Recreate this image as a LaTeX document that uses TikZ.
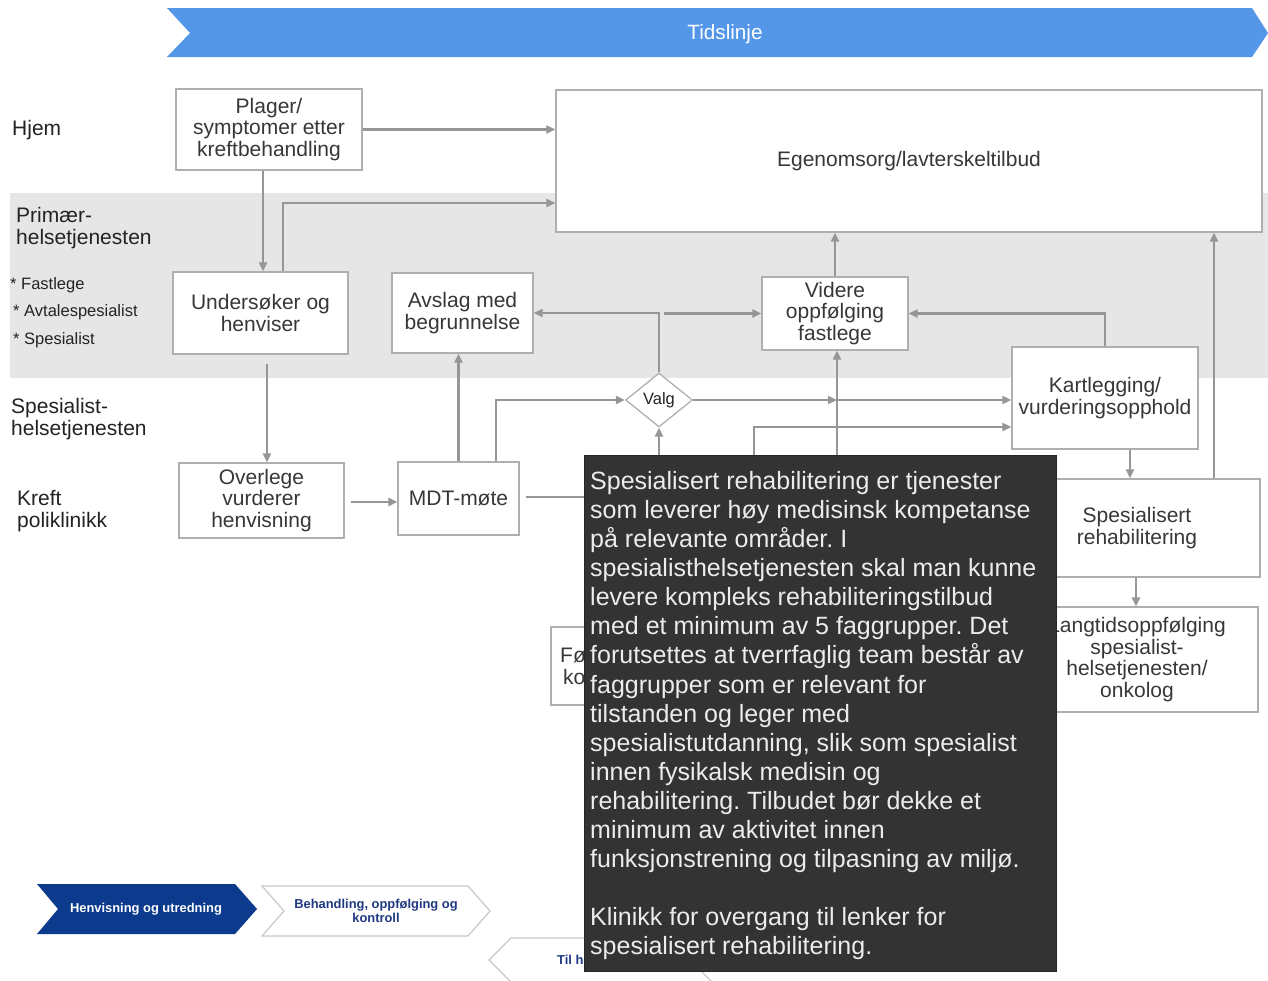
\documentclass[tikz,border=0pt]{standalone}
\usepackage{fontspec}
\setmainfont{Liberation Sans}
\usetikzlibrary{arrows.meta,shapes.geometric,calc}
\frenchspacing

\definecolor{tlblue}{RGB}{84,150,232}
\definecolor{navy}{RGB}{12,58,140}
\definecolor{navytext}{RGB}{31,56,130}
\definecolor{lanegray}{RGB}{230,230,230}
\definecolor{boxline}{RGB}{175,175,175}
\definecolor{conncol}{RGB}{150,150,150}
\definecolor{boxtext}{RGB}{55,55,55}
\definecolor{lanetext}{RGB}{35,35,35}
\definecolor{tipbg}{RGB}{51,51,51}
\definecolor{tiptext}{RGB}{236,236,236}
\definecolor{chevline}{RGB}{200,200,200}

\tikzset{
  box/.style={draw=boxline, line width=1.3pt, fill=white, inner sep=0pt,
    align=center, text=boxtext, font=\fontsize{21}{21.5}\selectfont},
  lanelabel/.style={anchor=west, align=left, inner sep=0pt, text=lanetext,
    font=\fontsize{21}{22}\selectfont},
  sublabel/.style={anchor=west, inner sep=0pt, text=lanetext,
    font=\fontsize{16.5}{18}\selectfont},
  link/.style={draw=conncol, line width=2.1pt,
    -{Triangle[length=9pt,width=8pt]}},
  plainlink/.style={draw=conncol, line width=2.1pt},
  chevtext/.style={align=center, inner sep=0pt,
    font=\fontsize{12.9}{13.5}\selectfont\bfseries},
}

\begin{document}
\begin{tikzpicture}[x=1pt, y=-1pt]
\useasboundingbox (0,0) rectangle (1268,980);
\fill[white] (0,0) rectangle (1268,980);

% band for the primary health service
\fill[lanegray] (10,193) rectangle (1268,378);

% timeline arrow
\fill[tlblue] (167,8) -- (1252,8) -- (1268,33) -- (1252,57) -- (167,57) -- (190,33) -- cycle;
\node[text=white, font=\fontsize{20.7}{22}\selectfont, inner sep=0pt] (tl) at (725,34) {Tidslinje};

% lane labels
\node[lanelabel] (lhjem) at (12,130) {Hjem};
\node[lanelabel] (lprim) at (16,228) {Primær-\\helsetjenesten};
\node[sublabel] (lfast) at (10,285) {* Fastlege};
\node[sublabel] (lavt) at (13,312) {* Avtalespesialist};
\node[sublabel] (lspes) at (13,340) {* Spesialist};
\node[lanelabel] (lspht) at (11,419) {Spesialist-\\helsetjenesten};
\node[lanelabel] (lkreft) at (17,511) {Kreft\\poliklinikk};

% process boxes
\node[box, minimum width=186pt, minimum height=81pt] (plager) at (269,129.5)
  {Plager/\\symptomer etter\\kreftbehandling};
\node[box, minimum width=706pt, minimum height=142pt] (egen) at (909,161)
  {Egenomsorg/lavterskeltilbud};
\node[box, minimum width=175pt, minimum height=82pt] (unders) at (260.5,313)
  {Undersøker og\\henviser};
\node[box, minimum width=141pt, minimum height=80pt] (avslag) at (462.5,313)
  {Avslag med\\begrunnelse};
\node[box, minimum width=146pt, minimum height=73pt] (videre) at (835,313.5)
  {Videre\\oppfølging\\fastlege};
\node[box, minimum width=186pt, minimum height=102pt] (kart) at (1105,398)
  {Kartlegging/\\vurderingsopphold};
\node[diamond, aspect=1.24, draw=boxline, line width=1.3pt, fill=white,
  minimum width=67pt, minimum height=54pt, inner sep=0pt, text=lanetext,
  font=\fontsize{16.5}{18}\selectfont] (valg) at (659,400) {Valg};
\node[box, minimum width=165pt, minimum height=75pt] (overlege) at (261.5,500.5)
  {Overlege\\vurderer\\henvisning};
\node[box, minimum width=121pt, minimum height=73pt] (mdt) at (458.5,498.5)
  {MDT-møte};
\node[box, minimum width=246pt, minimum height=98pt] (spes) at (1137,528)
  {Spesialisert\\rehabilitering};
\node[box, minimum width=242pt, minimum height=105pt] (lang) at (1137,659.5)
  {Langtidsoppfølging\\spesialist-\\helsetjenesten/\\onkolog};
\node[box, minimum width=148pt, minimum height=78pt] (fo) at (625,666) {};
\node[anchor=base west, inner sep=0pt, text=boxtext,
  font=\fontsize{21}{21.5}\selectfont] (fotop) at (560,662) {Fø};
\node[anchor=base west, inner sep=0pt, text=boxtext,
  font=\fontsize{21}{21.5}\selectfont] (fobot) at (563,684) {ko};

% loose ends of connectors that run behind the info panel
\coordinate (mdtout) at (650,497);
\coordinate (valgin) at (659,560);
\coordinate (videin) at (837,560);
\coordinate (kartin) at (754,560);

% connectors
\draw[link] (plager.east) -- (plager.east -| egen.west);
\draw[link] ($(plager.south)+(-6,0)$) -- ($(unders.north)+(2.5,0)$);
\draw[link] ($(unders.north)+(22.5,0)$) |- ($(egen.west)+(0,42)$);
\draw[link] ($(unders.south)+(6.5,9)$) -- ($(overlege.north)+(5.5,0)$);
\draw[link, shorten <=6pt] ($(overlege.east)+(0,1.5)$) -- ($(mdt.west)+(0,3.5)$);
\draw[link] (mdt.north) -- (mdt.north |- avslag.south);
\draw[link] ($(mdt.north)+(37.5,0)$) |- (valg.west);
\draw[plainlink] ($(mdt.east)+(6,-1.5)$) -- (mdtout);
\draw[link] (valg.north) |- (avslag.east);
\draw[link] ($(valg.north |- videre.west)+(5,0)$) -- (videre.west);
\draw[link] (valg.east) -- (valg.east -| videin);
\draw[link] (valg.east -| videin) -- (valg.east -| kart.west);
\draw[link] (videin) -- (videin |- videre.south);
\draw[link] (kartin) |- ($(kart.west)+(0,29)$);
\draw[link] (valgin) -- (valg.south);
\draw[link] (kart.north) |- (videre.east);
\draw[link] (videre.north) -- (videre.north |- egen.south);
\draw[link] ($(kart.south)+(25,0)$) -- ($(spes.north)+(-7,0)$);
\draw[link] ($(spes.north)+(77,0)$) -- ($(egen.south)+(305,0)$);
\draw[link] ($(spes.south)+(-1,0)$) -- ($(lang.north)+(-1,0)$);

% phase chevrons at the bottom
\fill[navy] (37,884) -- (235,884) -- (257,909) -- (235,934) -- (37,934) -- (58,909) -- cycle;
\node[chevtext, text=white] (ph1) at (146,909) {Henvisning og utredning};
\draw[chevline, line width=1.2pt, fill=white]
  (262,886) -- (468,886) -- (490,911) -- (468,936) -- (262,936) -- (284,911) -- cycle;
\node[chevtext, text=navytext] (ph2) at (376,911) {Behandling, oppfølging og\\kontroll};
\draw[chevline, line width=1.2pt, fill=white]
  (489,960) -- (511,938) -- (712,938) -- (690,960) -- (712,982) -- (511,982) -- cycle;
\node[chevtext, text=navytext, anchor=west] (ph3) at (557,960) {Til h};

% information panel
\node[draw=black!85, line width=1pt, fill=tipbg, minimum width=472pt,
  minimum height=516pt, inner sep=0pt] (tip) at (820,713) {};
\node[anchor=north west, align=left, inner sep=0pt, text=tiptext,
  font=\fontsize{25}{29.1}\selectfont] (tiptxt) at (590,471)
  {Spesialisert rehabilitering er tjenester\\
   som leverer høy medisinsk kompetanse\\
   på relevante områder. I\\
   spesialisthelsetjenesten skal man kunne\\
   levere kompleks rehabiliteringstilbud\\
   med et minimum av 5 faggrupper. Det\\
   forutsettes at tverrfaglig team består av\\
   faggrupper som er relevant for\\
   tilstanden og leger med\\
   spesialistutdanning, slik som spesialist\\
   innen fysikalsk medisin og\\
   rehabilitering. Tilbudet bør dekke et\\
   minimum av aktivitet innen\\
   funksjonstrening og tilpasning av miljø.\\[29.1pt]
   Klinikk for overgang til lenker for\\
   spesialisert rehabilitering.};
\end{tikzpicture}
\end{document}
